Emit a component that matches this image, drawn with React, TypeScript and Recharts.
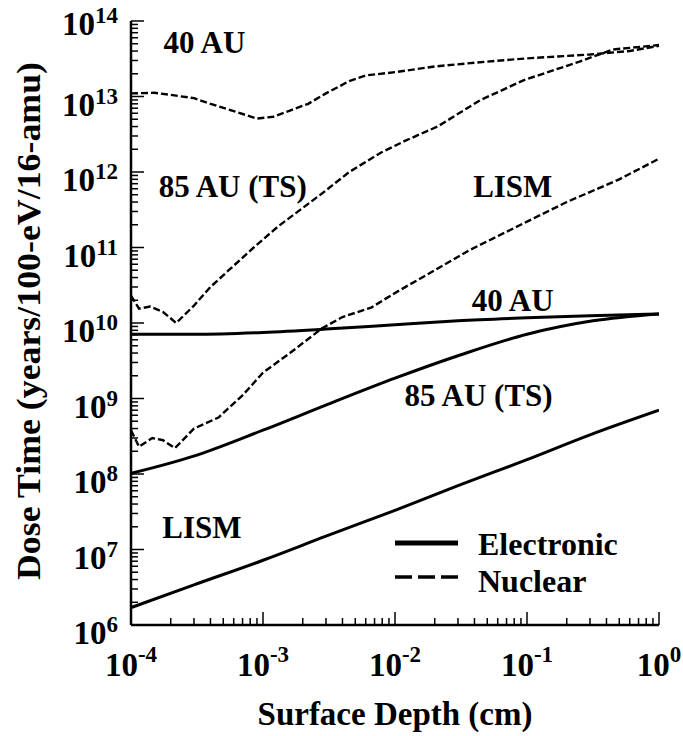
import React from "react";
import { LineChart, Line, XAxis, YAxis, ReferenceDot, Legend } from "recharts";

const FONT = "Liberation Serif";

// x = surface depth (cm), y = dose time (years/100-eV/16-amu)
const elec40: [number, number][] = [
  [1e-4, 7.1e9], [3e-4, 7.1e9], [1e-3, 7.5e9], [3e-3, 8.3e9], [1e-2, 9.5e9],
  [3e-2, 1.07e10], [0.1, 1.17e10], [0.3, 1.25e10], [1, 1.32e10],
];
const elec85: [number, number][] = [
  [1e-4, 1.02e8], [3.16e-4, 1.78e8], [1e-3, 3.8e8], [3.16e-3, 8.5e8], [1e-2, 1.86e9],
  [3.16e-2, 3.8e9], [0.1, 7.1e9], [0.316, 1.07e10], [1, 1.32e10],
];
const elecLism: [number, number][] = [
  [1e-4, 1.7e6], [3e-4, 3.4e6], [1e-3, 7.2e6], [3e-3, 1.5e7], [1e-2, 3.3e7],
  [3e-2, 7e7], [0.1, 1.55e8], [0.3, 3.3e8], [1, 7e8],
];
const nuc40: [number, number][] = [
  [1e-4, 1.1e13], [1.5e-4, 1.12e13], [2e-4, 1.05e13], [3e-4, 9.5e12], [4e-4, 8e12],
  [6e-4, 6.4e12], [9e-4, 5.1e12], [1.2e-3, 5.4e12], [1.6e-3, 6.5e12], [2.2e-3, 8e12],
  [3e-3, 1.1e13], [4.5e-3, 1.6e13], [6e-3, 1.9e13], [1e-2, 2.1e13], [2e-2, 2.5e13],
  [5e-2, 2.9e13], [0.1, 3.2e13], [0.3, 3.6e13], [0.6, 4.0e13], [1, 4.7e13],
];
const nuc85: [number, number][] = [
  [1e-4, 2.3e10], [1.15e-4, 1.55e10], [1.4e-4, 1.65e10], [1.75e-4, 1.4e10], [2.2e-4, 1.0e10],
  [3e-4, 1.7e10], [4e-4, 3e10], [5.5e-4, 5e10], [8.5e-4, 1e11], [1.3e-3, 1.9e11],
  [2.8e-3, 5.2e11], [4.5e-3, 1e12], [7.8e-3, 1.8e12], [1.2e-2, 2.6e12], [2.1e-2, 4e12],
  [4.4e-2, 8.9e12], [9.5e-2, 1.65e13], [0.25, 2.9e13], [0.45, 4.2e13], [1, 4.8e13],
];
const nucLism: [number, number][] = [
  [1e-4, 3.8e8], [1.15e-4, 2.3e8], [1.45e-4, 3e8], [1.75e-4, 2.8e8], [2.15e-4, 2.2e8],
  [3e-4, 4e8], [4.6e-4, 5.6e8], [7e-4, 1.1e9], [1e-3, 2.2e9], [1.6e-3, 4e9],
  [2.8e-3, 8.5e9], [4e-3, 1.2e10], [6.6e-3, 1.6e10], [1e-2, 2.5e10], [2e-2, 5e10],
  [3.7e-2, 9.3e10], [0.1, 2.2e11], [0.2, 4e11], [0.5, 8e11], [1, 1.5e12],
];

const xExponents = [-4, -3, -2, -1, 0];
const yExponents = [6, 7, 8, 9, 10, 11, 12, 13, 14];

const annotations = [
  { x: 3.6e-4, y: 5.2e13, text: "40 AU" },
  { x: 5.9e-4, y: 6.5e11, text: "85 AU (TS)" },
  { x: 7.8e-2, y: 6.5e11, text: "LISM" },
  { x: 7.8e-2, y: 2.0e10, text: "40 AU" },
  { x: 4.3e-2, y: 1.1e9, text: "85 AU (TS)" },
  { x: 3.45e-4, y: 2.0e7, text: "LISM" },
];

const rows = (pts: [number, number][]) => pts.map(([x, y]) => ({ x, y }));

// major ticks at each decade plus 2..9 minor ticks
const logTicks = (exps: number[]) => {
  const out: number[] = [];
  exps.forEach((e, i) => {
    out.push(Math.pow(10, e));
    if (i < exps.length - 1) for (let m = 2; m <= 9; m++) out.push(m * Math.pow(10, e));
  });
  return out;
};
const xTicks = logTicks(xExponents);
const yTicks = logTicks(yExponents);

const isMajor = (v: number) => {
  const l = Math.log10(v);
  return Math.abs(l - Math.round(l)) < 1e-6;
};

const XTick = (props: any) => {
  const { x, y, payload, side } = props;
  const v = payload.value;
  const major = isMajor(v);
  const len = major ? 13 : 7;
  const dir = side === "bottom" ? -1 : 1;
  return (
    <g>
      <line x1={x} y1={y} x2={x} y2={y + dir * len} stroke="#000" strokeWidth={1.5} />
      {side === "bottom" && major && (
        <text x={x} y={y + 51} textAnchor="middle" fontFamily={FONT} fontWeight="bold" fontSize={33} fill="#000">
          10<tspan dy={-14} fontSize={23}>{Math.round(Math.log10(v))}</tspan>
        </text>
      )}
    </g>
  );
};

const YTick = (props: any) => {
  const { x, y, payload, side } = props;
  const v = payload.value;
  const major = isMajor(v);
  const len = major ? 13 : 7;
  const dir = side === "left" ? 1 : -1;
  const e = Math.round(Math.log10(v));
  return (
    <g>
      <line x1={x} y1={y} x2={x + dir * len} y2={y} stroke="#000" strokeWidth={1.5} />
      {side === "left" && major && (
        <text x={x - 13} y={y + (e === 14 ? 14 : 19)} textAnchor="end" fontFamily={FONT} fontWeight="bold" fontSize={33} fill="#000">
          10<tspan dy={-12} fontSize={23}>{e}</tspan>
        </text>
      )}
    </g>
  );
};

const LegendBox = () => (
  <svg width={260} height={72} style={{ overflow: "visible" }}>
    <line x1={1} y1={12} x2={64} y2={12} stroke="#000" strokeWidth={5} />
    <text x={84} y={24} fontFamily={FONT} fontWeight="bold" fontSize={32}>Electronic</text>
    <line x1={1} y1={46} x2={64} y2={46} stroke="#000" strokeWidth={3.5} strokeDasharray="17 6" />
    <text x={84} y={61} fontFamily={FONT} fontWeight="bold" fontSize={32}>Nuclear</text>
  </svg>
);

export default function App() {
  return (
    <div style={{ position: "absolute", left: 0, top: 0, background: "#fff" }}>
      <LineChart width={683} height={736} margin={{ top: 21, right: 24, bottom: 51, left: 0 }}>
        <XAxis
          dataKey="x"
          type="number"
          scale="log"
          domain={[1e-4, 1]}
          allowDataOverflow
          ticks={xTicks}
          interval={0}
          tickSize={0}
          tickMargin={0}
          tickLine={false}
          height={60}
          axisLine={{ stroke: "#000", strokeWidth: 2.5 }}
          tick={(p: any) => <XTick {...p} side="bottom" />}
          label={{
            value: "Surface Depth (cm)",
            position: "bottom",
            offset: 17,
            fontFamily: FONT,
            fontWeight: "bold",
            fontSize: 33,
            fill: "#000",
          }}
        />
        <XAxis
          xAxisId="top"
          orientation="top"
          dataKey="x"
          type="number"
          scale="log"
          domain={[1e-4, 1]}
          allowDataOverflow
          ticks={xTicks}
          interval={0}
          tickSize={0}
          tickMargin={0}
          tickLine={false}
          height={0}
          axisLine={{ stroke: "#000", strokeWidth: 2.5 }}
          tick={(p: any) => <XTick {...p} side="top" />}
        />
        <YAxis
          type="number"
          scale="log"
          domain={[1e6, 1e14]}
          allowDataOverflow
          ticks={yTicks}
          interval={0}
          tickSize={0}
          tickMargin={0}
          tickLine={false}
          width={131}
          axisLine={{ stroke: "#000", strokeWidth: 2.5 }}
          tick={(p: any) => <YTick {...p} side="left" />}
          label={{
            content: () => (
              <text
                transform="translate(40,321) rotate(-90)"
                textAnchor="middle"
                fontFamily={FONT}
                fontWeight="bold"
                fontSize={34}
                fill="#000"
                textLength={518}
                lengthAdjust="spacingAndGlyphs"
              >
                Dose Time (years/100-eV/16-amu)
              </text>
            ),
          }}
        />
        <YAxis
          yAxisId="right"
          orientation="right"
          type="number"
          scale="log"
          domain={[1e6, 1e14]}
          allowDataOverflow
          ticks={yTicks}
          interval={0}
          tickSize={0}
          tickMargin={0}
          tickLine={false}
          width={0}
          axisLine={{ stroke: "#000", strokeWidth: 2.5 }}
          tick={(p: any) => <YTick {...p} side="right" />}
        />
        <Line data={rows(elec40)} dataKey="y" type="monotone" stroke="#000" strokeWidth={3} dot={false} isAnimationActive={false} legendType="none" />
        <Line data={rows(elec85)} dataKey="y" type="monotone" stroke="#000" strokeWidth={3} dot={false} isAnimationActive={false} legendType="none" />
        <Line data={rows(elecLism)} dataKey="y" type="monotone" stroke="#000" strokeWidth={3} dot={false} isAnimationActive={false} legendType="none" />
        <Line data={rows(nuc40)} dataKey="y" type="linear" stroke="#000" strokeWidth={2.4} strokeDasharray="7 3" dot={false} isAnimationActive={false} legendType="none" />
        <Line data={rows(nuc85)} dataKey="y" type="linear" stroke="#000" strokeWidth={2.4} strokeDasharray="7 3" dot={false} isAnimationActive={false} legendType="none" />
        <Line data={rows(nucLism)} dataKey="y" type="linear" stroke="#000" strokeWidth={2.4} strokeDasharray="7 3" dot={false} isAnimationActive={false} legendType="none" />
        {annotations.map((a, i) => (
          <ReferenceDot
            key={i}
            x={a.x}
            y={a.y}
            r={0}
            fill="none"
            stroke="none"
            label={{ value: a.text, position: "center", fontFamily: FONT, fontWeight: "bold", fontSize: 31, fill: "#000" }}
          />
        ))}
        <Legend
          layout="vertical"
          align="center"
          verticalAlign="middle"
          content={() => <LegendBox />}
          wrapperStyle={{ position: "absolute", left: 394, top: 531, width: 260, height: 72 }}
        />
      </LineChart>
    </div>
  );
}
